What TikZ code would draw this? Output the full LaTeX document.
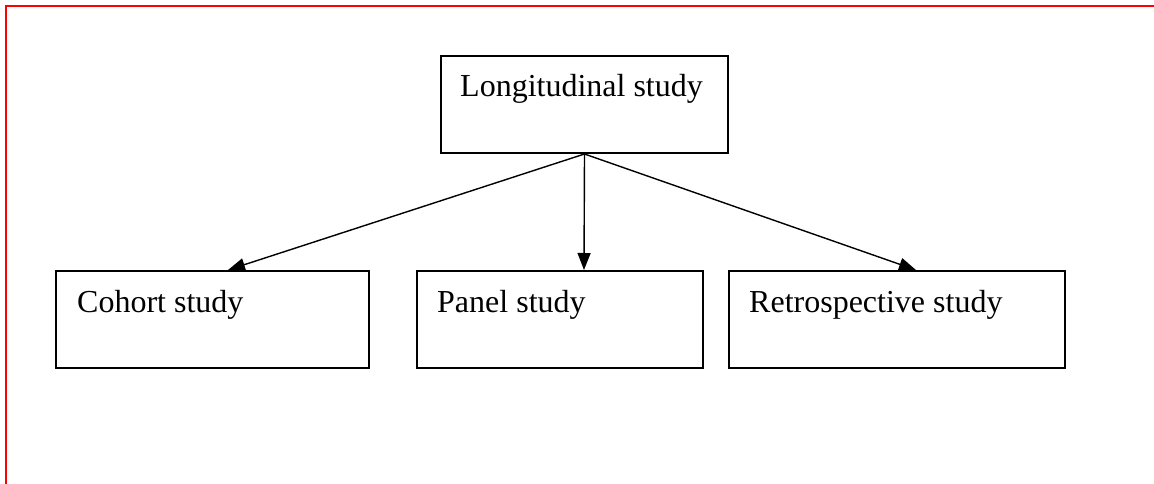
\documentclass[tikz,border=0pt]{standalone}
\usepackage{fontspec}
\setmainfont{Liberation Serif}
\usetikzlibrary{arrows.meta}
\begin{document}
\begin{tikzpicture}[x=1pt,y=-1pt,
  box/.style={draw=black,line width=2pt,minimum width=#1,minimum height=97pt,inner sep=0pt,anchor=north west},
  lbl/.style={anchor=base west,inner sep=0pt,font=\fontsize{32}{38}\selectfont},
  arr/.style={draw=black,line width=1.4pt,-{Triangle[length=17pt,width=13pt]}},
  frame/.style={draw=red,line width=2.4pt}]
\useasboundingbox (0,0) rectangle (1154,484);
\draw[frame] (6,484) -- (6,6) -- (1154,6);
\node[box=287pt] (top) at (440,55) {};
\node[box=313pt] (cohort) at (55,270) {};
\node[box=286pt] (panel) at (416,270) {};
\node[box=336pt] (retro) at (728,270) {};
\node[lbl] (ttop) at (460,97) {Longitudinal study};
\node[lbl] (tcohort) at (77,312) {Cohort study};
\node[lbl] (tpanel) at (437,312) {Panel study};
\node[lbl] (tretro) at (749,312) {Retrospective study};
\draw[arr] (top.south) -- ([xshift=173pt]cohort.north west);
\draw[arr] (top.south) -- ([xshift=168pt]panel.north west);
\draw[arr] (top.south) -- ([xshift=188pt]retro.north west);
\end{tikzpicture}
\end{document}
